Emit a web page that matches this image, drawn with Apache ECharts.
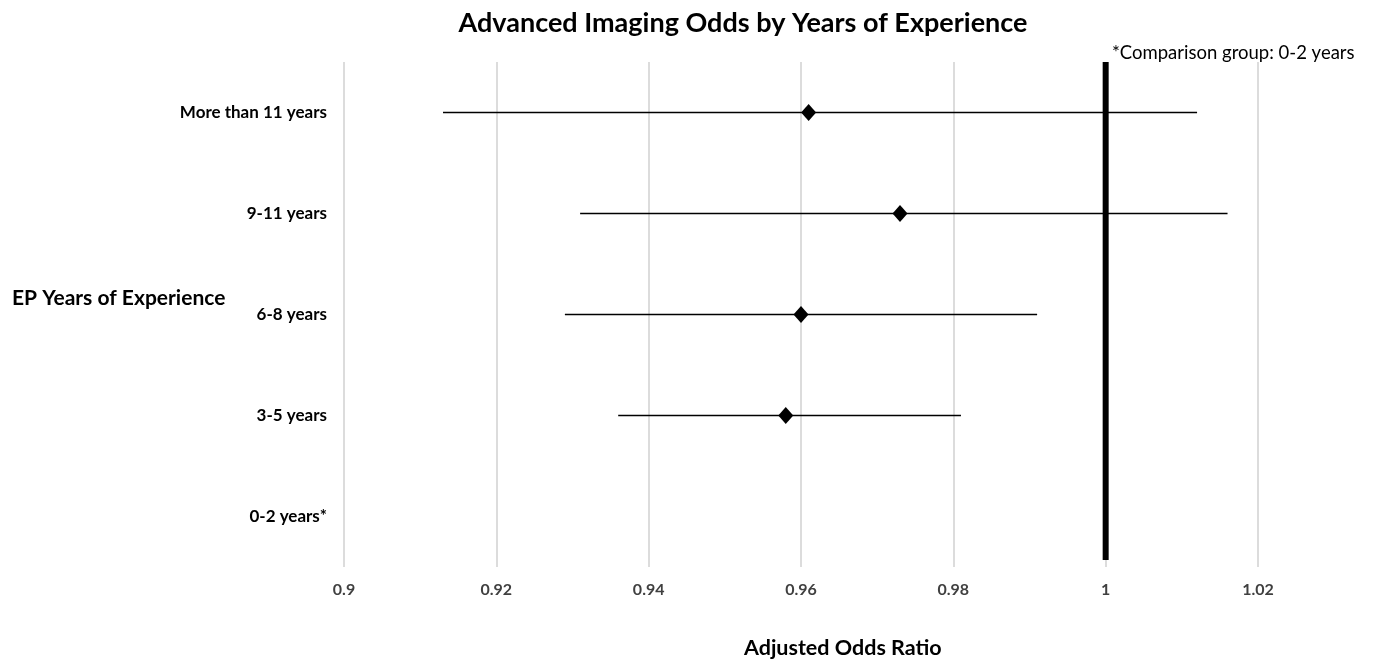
<!DOCTYPE html>
<html>
<head>
<meta charset="utf-8">
<script src="https://cdn.jsdelivr.net/npm/echarts@6/dist/echarts.min.js"></script>
<style>html,body{margin:0;padding:0;background:#fff;}#c{width:1373px;height:663px;}</style>
</head>
<body>
<div id="c"></div>
<script>
const categories = ['More than 11 years', '9-11 years', '6-8 years', '3-5 years', '0-2 years*'];
const oddsRatio = [0.961, 0.973, 0.960, 0.958, null];
const ciLower = [0.913, 0.931, 0.929, 0.936, null];
const ciUpper = [1.012, 1.016, 0.991, 0.981, null];
const xTicks = [0.9, 0.92, 0.94, 0.96, 0.98, 1, 1.02];
const referenceValue = 1;

const FONT = 'Lato';
const chart = echarts.init(document.getElementById('c'));

const ciData = categories.map((c, i) => ciLower[i] == null ? null : [ciLower[i], ciUpper[i], c]).filter(d => d);
const pointData = categories.map((c, i) => oddsRatio[i] == null ? null : [oddsRatio[i], c]).filter(d => d);

chart.setOption({
  animation: false,
  backgroundColor: '#fff',
  title: {
    text: 'Advanced Imaging Odds by Years of Experience',
    left: 738, top: 5, textAlign: 'center',
    textStyle: {fontFamily: FONT, fontWeight: 'bold', fontSize: 27, color: '#000'}
  },
  grid: {left: 344, right: 1373 - 1258, top: 62, bottom: 663 - 567},
  xAxis: {
    type: 'value', min: 0.9, max: 1.02, interval: 0.02,
    axisLine: {show: false}, axisTick: {show: false},
    splitLine: {show: true, lineStyle: {color: '#d0d0d0', width: 1.5}},
    axisLabel: {
      margin: 15, fontFamily: FONT, fontWeight: 'bold', fontSize: 16, color: '#404040',
      formatter: v => { const t = xTicks.find(x => Math.abs(x - v) < 1e-9); return t == null ? '' : String(t); }
    }
  },
  yAxis: {
    type: 'category', data: categories, inverse: true,
    axisLine: {show: false}, axisTick: {show: false}, splitLine: {show: false},
    axisLabel: {margin: 17, fontFamily: FONT, fontWeight: 'bold', fontSize: 17, color: '#000'}
  },
  graphic: [
    {type: 'text', left: 12, top: 288, style: {text: 'EP Years of Experience', font: 'bold 21px ' + FONT, fill: '#000'}},
    {type: 'text', left: 744, top: 637, style: {text: 'Adjusted Odds Ratio', font: 'bold 21.5px ' + FONT, fill: '#000'}},
    {type: 'text', left: 1112, top: 44, style: {text: '*Comparison group: 0-2 years', font: '18.5px ' + FONT, fill: '#000'}}
  ],
  series: [
    {
      type: 'custom',
      data: ciData,
      encode: {x: [0, 1], y: 2},
      renderItem: (params, api) => {
        const a = api.coord([api.value(0), api.value(2)]);
        const b = api.coord([api.value(1), api.value(2)]);
        return {type: 'line', shape: {x1: a[0], y1: a[1], x2: b[0], y2: b[1]}, style: {stroke: '#000', lineWidth: 1.6}};
      },
      z: 3
    },
    {
      type: 'custom',
      data: [[referenceValue]],
      encode: {x: 0},
      renderItem: (params, api) => {
        const cs = params.coordSys;
        const p = api.coord([api.value(0), categories[0]]);
        return {type: 'line', shape: {x1: p[0], y1: cs.y, x2: p[0], y2: cs.y + cs.height - 7}, style: {stroke: '#000', lineWidth: 6}};
      },
      z: 4
    },
    {
      type: 'scatter', data: pointData, symbol: 'diamond', symbolSize: [15, 17],
      itemStyle: {color: '#000', opacity: 1}, z: 5
    }
  ]
});
</script>
</body>
</html>
